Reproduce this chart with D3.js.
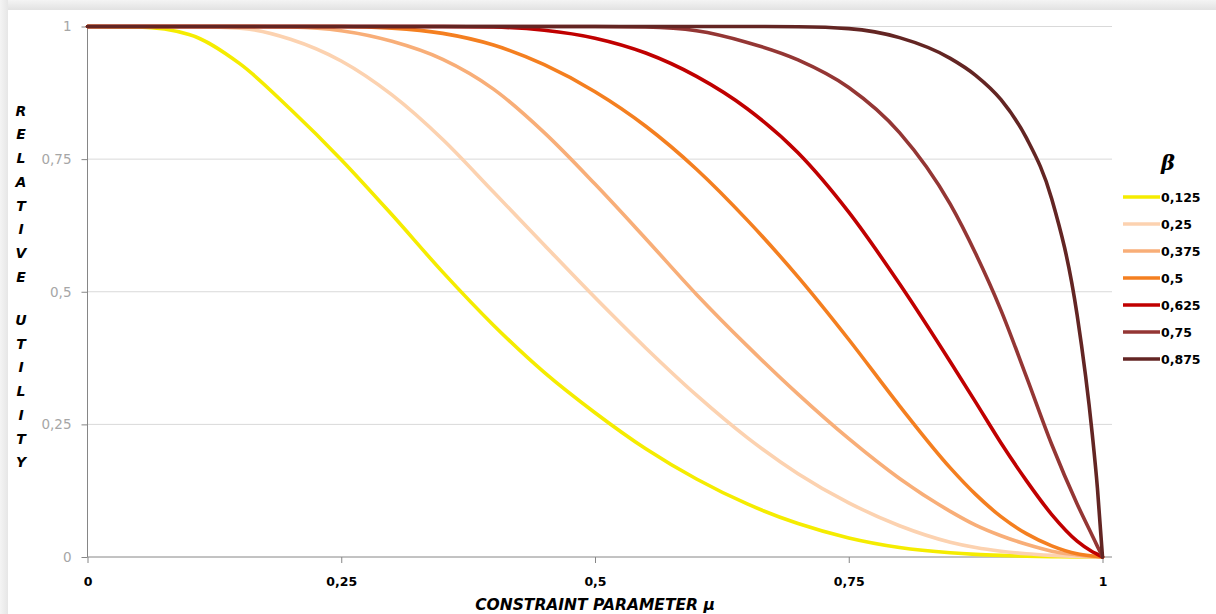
<!DOCTYPE html>
<html><head><meta charset="utf-8">
<script src="https://cdn.jsdelivr.net/npm/d3@7"></script>
<style>
html,body{margin:0;padding:0;background:#fff;}
svg{display:block;}
</style></head>
<body>
<svg id="chart" width="1216" height="614"></svg>
<script>
const mu = [0,0.05,0.1,0.15,0.2,0.25,0.3,0.35,0.4,0.45,0.5,0.55,0.6,0.65,0.7,0.75,0.8,0.85,0.875,0.9,0.925,0.95,0.975,0.99,0.995,1];
const betas = ["0,125","0,25","0,375","0,5","0,625","0,75","0,875"];
const colors = ["#F5EC00","#FCD2B0","#F8AE78","#F47F20","#C00000","#943634","#632523"];
const u0125 = [1,0.999,0.985,0.93,0.844,0.749,0.645,0.537,0.437,0.348,0.272,0.204,0.147,0.1,0.063,0.036,0.018,0.008,0.005,0.003,0.0015,0.0006,0.0001,0,0,0];
const u025  = [1,1,1,0.997,0.976,0.935,0.871,0.787,0.688,0.588,0.489,0.394,0.305,0.225,0.157,0.102,0.059,0.028,0.018,0.011,0.006,0.003,0.001,0.0002,0,0];
const u0375 = [1,1,1,1,0.999,0.992,0.972,0.938,0.882,0.8,0.703,0.6,0.495,0.398,0.307,0.223,0.148,0.086,0.06,0.04,0.024,0.011,0.004,0.001,0.0004,0];
const u05   = [1,1,1,1,1,1,0.997,0.987,0.965,0.928,0.877,0.812,0.731,0.635,0.528,0.41,0.285,0.168,0.118,0.076,0.044,0.021,0.006,0.002,0.001,0];
const u0625 = [1,1,1,1,1,1,1,1,0.999,0.993,0.978,0.95,0.906,0.845,0.762,0.65,0.515,0.368,0.292,0.215,0.144,0.08,0.03,0.01,0.005,0];
const u075  = [1,1,1,1,1,1,1,1,1,1,1,0.999,0.992,0.97,0.937,0.885,0.8,0.665,0.572,0.465,0.34,0.212,0.1,0.04,0.02,0];
const u0875 = [1,1,1,1,1,1,1,1,1,1,1,1,1,1,0.9995,0.996,0.979,0.94,0.908,0.862,0.79,0.675,0.456,0.23,0.13,0];
const seriesValues = [u0125,u025,u0375,u05,u0625,u075,u0875];
const xTicks = [0,0.25,0.5,0.75,1];
const xTickLabels = ["0","0,25","0,5","0,75","1"];
const yTicks = [0,0.25,0.5,0.75,1];
const yTickLabels = ["0","0,25","0,5","0,75","1"];
const yTitleWords = ["RELATIVE","UTILITY"];
const xTitle = "CONSTRAINT PARAMETER  μ";
const legendTitle = "β";

const svg = d3.select("#chart");
const defs = svg.append("defs");
const gTop = defs.append("linearGradient").attr("id","gtop").attr("x1",0).attr("y1",0).attr("x2",0).attr("y2",1);
gTop.append("stop").attr("offset","0%").attr("stop-color","#f4f4f4");
gTop.append("stop").attr("offset","100%").attr("stop-color","#e2e2e2");
const gLeft = defs.append("linearGradient").attr("id","gleft").attr("x1",0).attr("y1",0).attr("x2",1).attr("y2",0);
gLeft.append("stop").attr("offset","0%").attr("stop-color","#f4f4f4");
gLeft.append("stop").attr("offset","100%").attr("stop-color","#e6e6e6");
svg.append("rect").attr("x",0).attr("y",0).attr("width",1216).attr("height",10).attr("fill","url(#gtop)");
svg.append("rect").attr("x",0).attr("y",0).attr("width",8).attr("height",614).attr("fill","url(#gleft)");
svg.append("rect").attr("x",8).attr("y",10).attr("width",1208).attr("height",604).attr("fill","#fff");

const x = d3.scaleLinear().domain([0,1]).range([87.5,1102.5]);
const y = d3.scaleLinear().domain([0,1]).range([557,26.5]);
const plotRight = 1112;
const sans = "'DejaVu Sans',Verdana,sans-serif";

svg.append("g").selectAll("line").data(yTicks.filter(d=>d>0)).join("line")
  .attr("x1",x(0)).attr("x2",plotRight).attr("y1",d=>y(d)).attr("y2",d=>y(d))
  .attr("stroke","#d9d9d9").attr("stroke-width",1);

const yAxis = d3.axisLeft(y).tickValues(yTicks).tickSize(6).tickPadding(10)
  .tickFormat((d,i)=>yTickLabels[i]);
const gy = svg.append("g").attr("transform",`translate(${x(0)},0)`).call(yAxis);
gy.select(".domain").attr("stroke","#868686").attr("d",`M0,${y(1)}V${y(0)}`);
gy.selectAll(".tick line").attr("stroke","#868686");
gy.selectAll(".tick text").attr("fill","#a6a6a6").style("font-family",sans).style("font-size","13.5px");

const xAxis = d3.axisBottom(x).tickValues(xTicks).tickSize(6).tickPadding(14.5)
  .tickFormat((d,i)=>xTickLabels[i]);
const gx = svg.append("g").attr("transform",`translate(0,${y(0)})`).call(xAxis);
gx.select(".domain").attr("stroke","#868686").attr("d",`M${x(0)},0H${plotRight}`);
gx.selectAll(".tick line").attr("stroke","#868686");
gx.selectAll(".tick text").attr("fill","#000").style("font-family",sans)
  .style("font-size","12.5px").style("font-weight","bold");

const line = d3.line().x((d,i)=>x(mu[i])).y(d=>y(d)).curve(d3.curveMonotoneX);
svg.append("g").selectAll("path").data(seriesValues).join("path")
  .attr("d",d=>line(d)).attr("fill","none")
  .attr("stroke",(d,i)=>colors[i]).attr("stroke-width",3.6)
  .attr("stroke-linejoin","round").attr("stroke-linecap","round");

const wordStarts = [110.7, 320];
const yLetters = [];
yTitleWords.forEach((w,wi)=>w.split("").forEach((c,ci)=>yLetters.push({c, y: wordStarts[wi] + ci*23.7})));
svg.append("g").selectAll("text").data(yLetters).join("text")
  .attr("x",21).attr("y",d=>d.y).attr("dy","0.36em")
  .attr("text-anchor","middle")
  .style("font-family",sans).style("font-size","14px")
  .style("font-weight","bold").style("font-style","italic").attr("fill","#000")
  .text(d=>d.c);

svg.append("text").attr("x",595).attr("y",609.5).attr("text-anchor","middle")
  .style("font-family",sans).style("font-size","15.5px")
  .style("font-weight","bold").style("font-style","italic").attr("fill","#000")
  .text(xTitle);

svg.append("text").attr("x",1168).attr("y",170).attr("text-anchor","middle")
  .style("font-family","'DejaVu Serif',serif").style("font-size","21px")
  .style("font-weight","bold").style("font-style","italic").attr("fill","#000")
  .text(legendTitle);
const leg = svg.append("g").selectAll("g").data(betas).join("g")
  .attr("transform",(d,i)=>`translate(1123,${197 + i*27})`);
leg.append("line").attr("x1",0).attr("x2",37).attr("y1",0).attr("y2",0)
  .attr("stroke",(d,i)=>colors[i]).attr("stroke-width",3.6);
leg.append("text").attr("x",38).attr("y",0).attr("dy","0.36em")
  .style("font-family",sans).style("font-size","12.5px")
  .style("font-weight","bold").attr("fill","#000").text(d=>d);
</script>
</body></html>
